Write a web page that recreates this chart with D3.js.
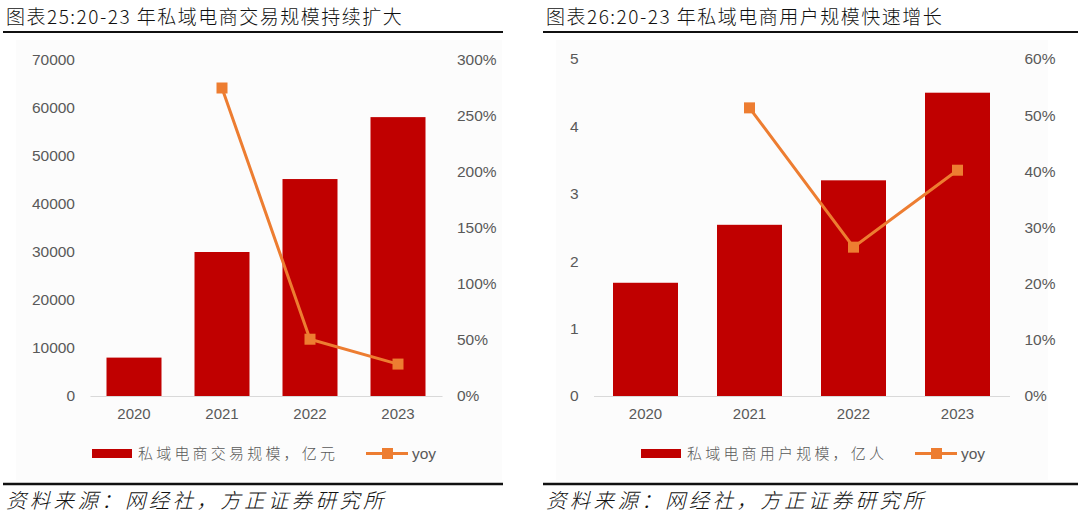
<!DOCTYPE html>
<html><head><meta charset="utf-8">
<script src="https://cdn.jsdelivr.net/npm/d3@7/dist/d3.min.js"></script>
<style>
html,body{margin:0;padding:0;background:#fff;}
svg{display:block;}
</style></head>
<body>
<svg id="c" width="1080" height="515"></svg>
<script>
const categories = ["2020","2021","2022","2023"];
// Left chart
const leftTitle = "图表25:20-23 年私域电商交易规模持续扩大";
const leftBars = [8000, 30000, 45200, 58100];
const leftYoy = [null, 2.75, 0.507, 0.285];
const leftTicks = [0,10000,20000,30000,40000,50000,60000,70000];
const leftPctTicks = [0,0.5,1,1.5,2,2.5,3];
const leftBarName = "私域电商交易规模，亿元";
// Right chart
const rightTitle = "图表26:20-23 年私域电商用户规模快速增长";
const rightBars = [1.68, 2.54, 3.20, 4.50];
const rightYoy = [null, 0.513, 0.265, 0.402];
const rightTicks = [0,1,2,3,4,5];
const rightPctTicks = [0,0.1,0.2,0.3,0.4,0.5,0.6];
const rightBarName = "私域电商用户规模，亿人";
const lineName = "yoy";
const source = "资料来源：网经社，方正证券研究所";

const svg = d3.select("#c");
const FONT = "'Noto Sans CJK SC','Noto Sans',sans-serif";
const LAT = "Arial,'Liberation Sans',sans-serif";
const RED = "#c00000", ORANGE = "#ed7d31", GREY = "#595959";

function panel(o){
  const g = svg.append("g");
  g.append("rect").attr("x",o.bgX).attr("y",40).attr("width",o.bgW).attr("height",440).attr("fill","#fcfcfc");
  g.append("text").attr("x",o.px+6).attr("y",24).attr("font-family",FONT).attr("font-size",19)
    .attr("font-weight",300).attr("letter-spacing",1.5).attr("fill","#111").text(o.title);
  g.append("line").attr("x1",o.lineX1).attr("x2",o.lineX2).attr("y1",32).attr("y2",32).attr("stroke","#111").attr("stroke-width",2);
  g.append("line").attr("x1",o.lineX1).attr("x2",o.lineX2).attr("y1",484).attr("y2",484).attr("stroke","#111").attr("stroke-width",2.5);
  g.append("text").attr("x",o.px+6).attr("y",508).attr("font-family",FONT).attr("font-size",20.5)
    .attr("font-style","italic").attr("font-weight",300).attr("letter-spacing",3.3).attr("fill","#111").text(source);

  const x = d3.scaleBand().domain(categories).range([o.x0,o.x1]).paddingInner(0.375).paddingOuter(0.1875);
  const y = d3.scaleLinear().domain([0,d3.max(o.ticks)]).range([396,o.yTop]);
  const y2 = d3.scaleLinear().domain([0,d3.max(o.pctTicks)]).range([396,o.yTop]);

  const ax = g.append("g").attr("transform","translate(0,396)")
    .call(d3.axisBottom(x).tickSize(0).tickPadding(12));
  ax.select(".domain").attr("stroke","#d9d9d9");
  ax.selectAll("text").attr("font-family",LAT).attr("font-size",15).attr("fill",GREY);

  const ay = g.append("g").attr("transform",`translate(${o.x0-12},0)`)
    .call(d3.axisLeft(y).tickValues(o.ticks).tickSize(0).tickPadding(3).tickFormat(d3.format("d")));
  ay.select(".domain").remove();
  ay.selectAll("text").attr("font-family",LAT).attr("font-size",15.5).attr("fill",GREY);

  const ay2 = g.append("g").attr("transform",`translate(${o.x1+12},0)`)
    .call(d3.axisRight(y2).tickValues(o.pctTicks).tickSize(0).tickPadding(3).tickFormat(d3.format(".0%")));
  ay2.select(".domain").remove();
  ay2.selectAll("text").attr("font-family",LAT).attr("font-size",15.5).attr("fill",GREY);

  g.selectAll(".bar").data(o.bars).join("rect")
    .attr("x",(d,i)=>x(categories[i])).attr("width",x.bandwidth())
    .attr("y",d=>y(d)).attr("height",d=>396-y(d)).attr("fill",RED);

  const pts = o.yoy.map((v,i)=>({c:categories[i],v})).filter(d=>d.v!==null);
  g.append("path").datum(pts).attr("fill","none").attr("stroke",ORANGE).attr("stroke-width",3)
    .attr("d",d3.line().x(d=>x(d.c)+x.bandwidth()/2).y(d=>y2(d.v)));
  g.selectAll(".mk").data(pts).join("rect")
    .attr("x",d=>x(d.c)+x.bandwidth()/2-5.5).attr("y",d=>y2(d.v)-5.5)
    .attr("width",11).attr("height",11).attr("fill",ORANGE);

  const lg = g.append("g");
  lg.append("rect").attr("x",o.lgX).attr("y",449).attr("width",40).attr("height",9).attr("fill",RED);
  lg.append("text").attr("x",o.lgX+46).attr("y",459).attr("font-family",FONT).attr("font-size",15)
    .attr("font-weight",300).attr("fill",GREY).attr("letter-spacing",3.2).text(o.barName);
  const lx = o.lgX+274;
  lg.append("line").attr("x1",lx).attr("x2",lx+42).attr("y1",453.5).attr("y2",453.5).attr("stroke",ORANGE).attr("stroke-width",3);
  lg.append("rect").attr("x",lx+16).attr("y",448).attr("width",11).attr("height",11).attr("fill",ORANGE);
  lg.append("text").attr("x",lx+46).attr("y",459).attr("font-family",LAT).attr("font-size",15.5)
    .attr("fill",GREY).text(lineName);
}

panel({px:0,title:leftTitle,bgX:16,bgW:486,lineX1:3,lineX2:503,x0:90,x1:442,yTop:60,
  ticks:leftTicks,pctTicks:leftPctTicks,bars:leftBars,yoy:leftYoy,barName:leftBarName,lgX:92});
panel({px:540,title:rightTitle,bgX:556,bgW:492,lineX1:543,lineX2:1078,x0:593.5,x1:1009.5,yTop:59,
  ticks:rightTicks,pctTicks:rightPctTicks,bars:rightBars,yoy:rightYoy,barName:rightBarName,lgX:641});
</script>
</body></html>
